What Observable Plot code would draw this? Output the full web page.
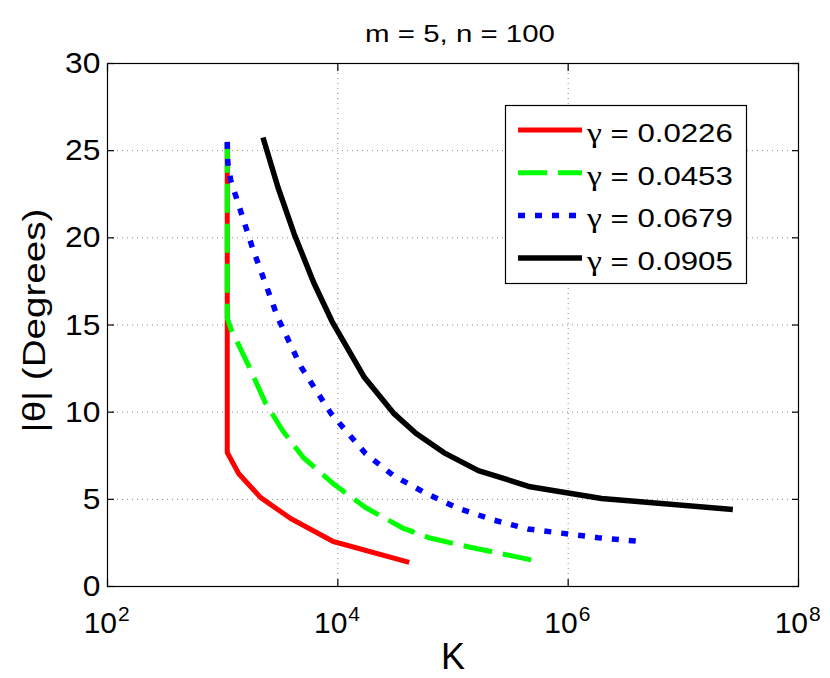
<!DOCTYPE html>
<html><head><meta charset="utf-8">
<script src="https://cdn.jsdelivr.net/npm/d3@7"></script>
<script src="https://cdn.jsdelivr.net/npm/@observablehq/plot@0.6"></script>
<style>
body{margin:0;background:#fff;}
svg{font-family:"Liberation Sans",Arial,Helvetica,sans-serif;}
</style>
</head><body><div id="chart"></div>
<script>
// ---- data ----
const seriesNames = ["γ = 0.0226", "γ = 0.0453", "γ = 0.0679", "γ = 0.0905"];
const seriesSymbol = ["γ", "γ", "γ", "γ"];
const seriesValueText = [" = 0.0226", " = 0.0453", " = 0.0679", " = 0.0905"];

const K_0226 = [1096, 1096, 1380, 2138, 3890, 9120, 41690];
const theta_0226 = [25.5, 7.69, 6.47, 5.1, 3.9, 2.58, 1.38];

const K_0453 = [1096, 1096, 1175, 1698, 2344, 3311, 5012, 9120, 17380, 37150, 63100, 141000, 501000];
const theta_0453 = [25.4, 15.4, 14.8, 12.6, 10.55, 8.95, 7.4, 5.9, 4.53, 3.33, 2.78, 2.25, 1.5];

const K_0679 = [1096, 1109, 1175, 1820, 3020, 4786, 8710, 17380, 30200, 58900, 112200, 229000, 446700, 1820000, 4266000];
const theta_0679 = [25.5, 24.3, 23.3, 19.4, 15.4, 12.6, 9.93, 7.63, 6.37, 5.33, 4.47, 3.8, 3.3, 2.8, 2.58];

const K_0905 = [2239, 3020, 4169, 6166, 8913, 16980, 30900, 47860, 83180, 166000, 467700, 1950000, 26900000];
const theta_0905 = [25.76, 22.9, 20.24, 17.44, 15.2, 12.0, 9.9, 8.78, 7.68, 6.65, 5.72, 5.05, 4.42];

const xTicks = [1e2, 1e4, 1e6, 1e8];
const xTickBase = ["10", "10", "10", "10"];
const xTickExp = ["2", "4", "6", "8"];
const yTicks = [0, 5, 10, 15, 20, 25, 30];

const titleText = "m = 5, n = 100";
const xLabelText = "K";
const yLabelText = "|θ| (Degrees)";

// ---- styles ----
const styles = [
  {stroke: "#ff0000", width: 5, dash: null},
  {stroke: "#00ff00", width: 5, dash: "29,11"},
  {stroke: "#0000ff", width: 5.5, dash: "7,10"},
  {stroke: "#000000", width: 5.5, dash: null}
];

const seriesK = [K_0226, K_0453, K_0679, K_0905];
const seriesTheta = [theta_0226, theta_0453, theta_0679, theta_0905];
const tables = seriesK.map((Ks, s) => Ks.map((k, i) => ({K: k, theta: seriesTheta[s][i], series: seriesNames[s]})));

const lineMarks = tables.map((t, s) => Plot.line(t, {
  x: "K", y: "theta",
  stroke: styles[s].stroke, strokeWidth: styles[s].width,
  strokeDasharray: styles[s].dash, strokeLinecap: "butt", strokeLinejoin: "round"
}));

const tickFmtNone = () => "";
const gridStyle = {stroke: "#8a8a8a", strokeOpacity: 1, strokeDasharray: "1,4", strokeWidth: 1};

const chart = Plot.plot({
  width: 830, height: 678,
  marginLeft: 107, marginRight: 32, marginTop: 63, marginBottom: 92,
  style: {fontFamily: "'Liberation Sans', Arial, sans-serif", background: "white", color: "black"},
  x: {type: "log", domain: [1e2, 1e8], axis: null},
  y: {domain: [0, 30], axis: null},
  marks: [
    Plot.gridY(yTicks.slice(1, -1), gridStyle),
    Plot.gridX(xTicks.slice(1, -1), gridStyle),
    ...lineMarks,
    Plot.frame({stroke: "black", strokeWidth: 1.2}),
    Plot.axisY(yTicks, {anchor: "left", tickSize: -7, tickFormat: tickFmtNone, label: null, strokeWidth: 1.2}),
    Plot.axisY(yTicks, {anchor: "right", tickSize: -7, tickFormat: tickFmtNone, label: null, strokeWidth: 1.2}),
    Plot.axisX(xTicks, {anchor: "bottom", tickSize: -7, tickFormat: tickFmtNone, label: null, strokeWidth: 1.2}),
    Plot.axisX(xTicks, {anchor: "top", tickSize: -7, tickFormat: tickFmtNone, label: null, strokeWidth: 1.2}),
    Plot.axisY(yTicks, {anchor: "left", tickSize: 0, tickPadding: 7, fontSize: 30, label: null, tickFormat: d => String(d)}),
    Plot.text(xTicks, {x: d => d, text: (d, i) => xTickBase[i], frameAnchor: "bottom", lineAnchor: "bottom", dy: 46, dx: 9.5, textAnchor: "end", fontSize: 30, fill: "black"}),
    Plot.text(xTicks, {x: d => d, text: (d, i) => xTickExp[i], frameAnchor: "bottom", lineAnchor: "bottom", dy: 34, dx: 10.5, textAnchor: "start", fontSize: 21, fill: "black"}),
    Plot.text([titleText], {text: d => d, frameAnchor: "top", textAnchor: "middle", lineAnchor: "bottom", dx: 7, dy: -22, fontSize: 23, fill: "black"}),
    Plot.text([xLabelText], {text: d => d, frameAnchor: "bottom", textAnchor: "middle", lineAnchor: "bottom", dy: 82, fontSize: 36, fill: "black"}),
    Plot.text([yLabelText], {text: d => d, frameAnchor: "left", textAnchor: "middle", dx: -72, dy: -4.5, rotate: -90, fontSize: 31, fill: "black"})
  ]
});

document.getElementById("chart").appendChild(chart);

// ---- legend (drawn into the same SVG) ----
const svg = d3.select(chart);
const lg = svg.append("g").attr("class", "legend").attr("text-anchor", "start");
lg.append("rect").attr("x", 505.5).attr("y", 105.5).attr("width", 241).attr("height", 178)
  .attr("fill", "white").attr("stroke", "black").attr("stroke-width", 1.2);
seriesNames.forEach((name, i) => {
  const yy = 130 + i * 42.7;
  lg.append("line").attr("x1", 518).attr("x2", 582).attr("y1", yy).attr("y2", yy)
    .attr("stroke", styles[i].stroke).attr("stroke-width", styles[i].width)
    .attr("stroke-dasharray", styles[i].dash).attr("stroke-linecap", "butt");
  const t = lg.append("text").attr("x", 587).attr("y", yy + 12)
    .attr("font-size", 26).attr("fill", "black").attr("class", "lgtext");
  t.append("tspan").attr("font-family", "'Liberation Serif', 'Times New Roman', serif").attr("font-size", 28).text(seriesSymbol[i]);
  t.append("tspan").text(seriesValueText[i]);
});

// the reference's lettering is horizontally stretched; widen text about its anchor
function stretch(sel, s) {
  sel.each(function () {
    const t = this.getAttribute("transform") || "";
    const x = parseFloat(this.getAttribute("x")) || 0;
    this.setAttribute("transform", `${t} translate(${x},0) scale(${s},1) translate(${-x},0)`);
  });
}
const byText = str => svg.selectAll("text").filter(function () { return this.textContent === str; });
stretch(byText(titleText), 1.28);
stretch(byText(yLabelText), 1.245);
stretch(svg.selectAll("text").filter(function () { return yTicks.map(String).includes(this.textContent) && this.parentNode.getAttribute("aria-label") === "y-axis tick label"; }), 1.06);
stretch(svg.selectAll("text.lgtext"), 1.2);
</script>
</body></html>
